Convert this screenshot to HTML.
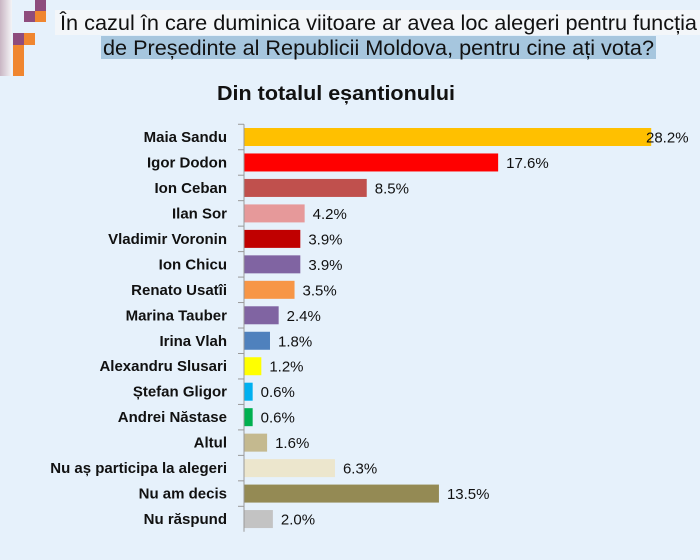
<!DOCTYPE html>
<html><head><meta charset="utf-8"><style>
html,body{margin:0;padding:0;background:#e6f1fb;}
svg{display:block;font-family:"Liberation Sans",sans-serif;}
</style></head><body>
<svg id="chart" width="700" height="560" viewBox="0 0 700 560">
<rect width="700" height="560" fill="#e6f1fb"/>
<defs><linearGradient id="lg" x1="0" x2="1"><stop offset="0" stop-color="#c9b6c4"/><stop offset="1" stop-color="#f4f4f6"/></linearGradient></defs>
<g>
<rect x="0" y="0" width="12" height="76" fill="url(#lg)"/>
<rect x="35" y="0" width="11" height="11" fill="#8e4c7d"/>
<rect x="24" y="11" width="11" height="11" fill="#8e4c7d"/>
<rect x="35" y="11" width="11" height="11" fill="#f0862f"/>
<rect x="13" y="33" width="11" height="12" fill="#8e4c7d"/>
<rect x="24" y="33" width="11" height="12" fill="#f0862f"/>
<rect x="13" y="45" width="11" height="31" fill="#f0862f"/>
</g>
<rect x="55" y="10" width="645" height="25" fill="#f3f6f9"/>
<rect x="101" y="36" width="555" height="23" fill="#a6c6de"/>
<text x="60" y="30" font-size="21" textLength="637" lengthAdjust="spacingAndGlyphs" fill="#111">În cazul în care duminica viitoare ar avea loc alegeri pentru funcția</text>
<text x="103" y="55" font-size="21" textLength="551" lengthAdjust="spacingAndGlyphs" fill="#111">de Președinte al Republicii Moldova, pentru cine ați vota?</text>
<text x="217" y="100" font-size="20" font-weight="bold" textLength="238" lengthAdjust="spacingAndGlyphs" fill="#111">Din totalul eșantionului</text>
<g id="plot"></g>
</svg>
<script>
const categories=["Maia Sandu","Igor Dodon","Ion Ceban","Ilan Sor","Vladimir Voronin","Ion Chicu","Renato Usatîi","Marina Tauber","Irina Vlah","Alexandru Slusari","Ștefan Gligor","Andrei Năstase","Altul","Nu aș participa la alegeri","Nu am decis","Nu răspund"];
const values=[28.2,17.6,8.5,4.2,3.9,3.9,3.5,2.4,1.8,1.2,0.6,0.6,1.6,6.3,13.5,2.0];
const valueLabels=["28.2%","17.6%","8.5%","4.2%","3.9%","3.9%","3.5%","2.4%","1.8%","1.2%","0.6%","0.6%","1.6%","6.3%","13.5%","2.0%"];
const colors=["#ffc000","#ff0000","#c0504d","#e6999a","#c00000","#8064a2","#f79646","#8064a2","#4f81bd","#ffff00","#00b0f0","#00b050","#c4b98f","#ece6cd","#948a54","#c3c3c3"];
const NS="http://www.w3.org/2000/svg";
const x0=244,pxPer=14.44,y0=137,step=25.47,bh=18;
const xs=v=>x0+v*pxPer;
const ys=i=>y0+i*step;
const g=document.getElementById('plot');
function mk(t,a){const e=document.createElementNS(NS,t);for(const k in a)e.setAttribute(k,a[k]);g.appendChild(e);return e;}
categories.forEach((c,i)=>{
 const y=ys(i);
 const b=mk('rect',{x:x0,y:y-bh/2,width:xs(values[i])-x0,height:bh,fill:colors[i]});
 
 
 const l=mk('text',{x:227,y:y+5,'font-size':15,'font-weight':'bold','text-anchor':'end',fill:'#111'});
 l.textContent=c;
 
 
 const vx=Math.min(xs(values[i])+8,698-52);
 const v=mk('text',{x:vx,y:y+5.5,'font-size':15,fill:'#111'});
 v.textContent=valueLabels[i];
 
 
 const t=mk('line',{x1:238,x2:x0,y1:y-step/2,y2:y-step/2,stroke:'#999'});
 
 
});
const ax=mk('line',{x1:x0,x2:x0,y1:ys(0)-step/2,y2:ys(categories.length-1)+step/2,stroke:'#999'});


</script>
</body></html>
